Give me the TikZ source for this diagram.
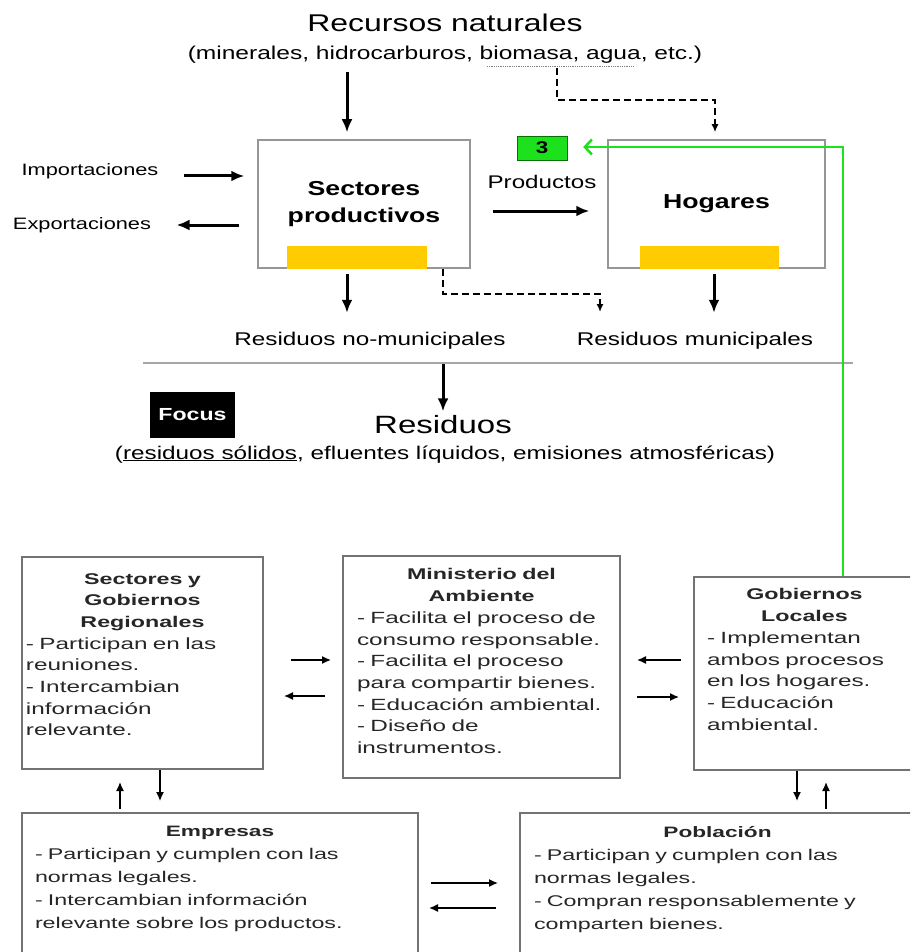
\documentclass[tikz,border=0pt]{standalone}
\usepackage{fontspec}
\setmainfont{Liberation Sans}[FakeStretch=1.32]
\newfontfamily\boxfont{Liberation Sans}[FakeStretch=1.5]
\usetikzlibrary{positioning, calc, arrows.meta}

\definecolor{ylw}{RGB}{255,204,0}
\definecolor{grn}{RGB}{30,225,30}
\definecolor{frame}{RGB}{150,150,150}

\tikzset{
  topbox/.style={draw=frame, line width=1.5pt, minimum width=212pt, minimum height=128pt, align=center, font=\fontsize{20.2}{27}\selectfont\bfseries},
  bar/.style={fill=ylw, inner sep=0pt, minimum width=140pt, minimum height=23pt},
  bigarr/.style={-{Latex[length=13pt,width=11pt]}, line width=3pt},
  dasharr/.style={-{Latex[length=8pt,width=7pt]}, line width=2pt, dash pattern=on 7pt off 4pt},
  thinarr/.style={-{Latex[length=9pt,width=8pt]}, line width=1.4pt},
  grnarr/.style={-{Straight Barb[length=7pt,width=15pt]}, draw=grn, line width=2.5pt},
  actor/.style={draw=black!55, line width=2pt, inner sep=0pt},
  actortxt/.style={inner sep=0pt, align=left, text=black!85, font=\boxfont\fontsize{16.2}{21.7}\selectfont},
  lowtxt/.style={inner sep=0pt, align=left, text=black!85, font=\boxfont\fontsize{15.5}{23}\selectfont}
}

\begin{document}
\begin{tikzpicture}[x=1pt, y=-1pt]
  \useasboundingbox (0,0) rectangle (910,952);
  \fill[white] (0,0) rectangle (910,952);
  \clip (0,0) rectangle (910,952);

  % Recursos naturales
  \node[anchor=base, font=\fontsize{24.2}{29}\selectfont] (rec) at (445,32) {Recursos naturales};
  \node[anchor=base, font=\fontsize{18.6}{22}\selectfont] (recsub) at (445,60) {(minerales, hidrocarburos, biomasa, agua, etc.)};
  \draw[densely dotted, black!50, line width=0.8pt] (487,66) -- (633,66);

  % Sectores y hogares
  \node[topbox] (sect) at (364,204) {Sectores\\productivos};
  \node[bar, anchor=south west] (sectbar) at ([xshift=30pt]sect.south west) {};
  \node[topbox, minimum width=217pt] (hog) at (716.5,204) {Hogares};
  \node[bar, anchor=south west, minimum width=139pt] (hogbar) at ([xshift=33pt]hog.south west) {};

  \node[draw=green!45!black, fill=grn, minimum width=50pt, minimum height=24pt, inner sep=0pt, font=\fontsize{17}{20}\selectfont\bfseries] (tres) at (542,148) {3};
  \node[anchor=base, font=\fontsize{18.3}{22}\selectfont] (prod) at (542,188) {Productos};
  \node[font=\fontsize{16.5}{20}\selectfont] (imp) at (90,171) {Importaciones};
  \node[font=\fontsize{16.5}{20}\selectfont] (exp) at (82,225) {Exportaciones};

  \coordinate (rin) at (347,72);
  \coordinate (rdash) at (557,68);
  \draw[bigarr, shorten >=7pt] (rin) -- (rin |- sect.north);
  \draw[dasharr, shorten >=7pt] (rdash) -- ++(0,32) -| ([xshift=-1.5pt]hog.north);
  \draw[bigarr, shorten <=22pt, shorten >=18pt] ([yshift=-7pt]sect.east) -- ([yshift=-7pt]sect.east -| hog.west);
  \draw[bigarr, shorten <=22pt, shorten >=13pt] ([yshift=-5pt]imp.east) -- ([yshift=-5pt]imp.east -| sect.west);
  \draw[bigarr, shorten <=18pt, shorten >=22pt] (exp.east -| sect.west) -- (exp.east);

  % Residuos
  \node[anchor=base, font=\fontsize{18.4}{22}\selectfont] (rnm) at (370,345) {Residuos no-municipales};
  \node[anchor=base, font=\fontsize{18.4}{22}\selectfont] (rm) at (695,345) {Residuos municipales};
  \coordinate (rmdash) at (600,312);
  \draw[bigarr] ([xshift=-17pt,yshift=-5pt]sect.south) -- ++(0,39);
  \draw[dasharr] ([xshift=79pt]sect.south) -- ++(0,25) -| (rmdash);
  \draw[bigarr] ([xshift=-2.5pt,yshift=-5pt]hog.south) -- ++(0,39);

  \draw[line width=1.5pt, black!35] (143,363) -- (853,363);
  \coordinate (sep) at (443,364);

  \node[fill=black, text=white, minimum width=85pt, minimum height=46pt, inner sep=0pt, font=\fontsize{17.5}{20}\selectfont\bfseries] (focus) at (192.5,415) {Focus};
  \node[anchor=base, font=\fontsize{25}{30}\selectfont] (res) at (443,433) {Residuos};
  \node[anchor=base, font=\fontsize{18.4}{22}\selectfont] (ressub) at (445,459) {(\underline{residuos sólidos}, efluentes líquidos, emisiones atmosféricas)};
  \draw[bigarr] (sep) -- (sep |- res.north);

  % Actores
  \node[actor, minimum width=241pt, minimum height=212pt] (sgr) at (142.5,663) {};
  \node[actortxt, text width=233pt, below=17pt of sgr.north] (sgrtxt) {{\centering\bfseries\fontsize{15.5}{21.7}\selectfont Sectores y\\Gobiernos\\Regionales\par}- Participan en las\\reuniones.\\- Intercambian\\información\\relevante.};

  \node[actor, minimum width=277pt, minimum height=222pt] (mina) at (481.5,667) {};
  \node[actortxt, text width=249pt, below=13.5pt of mina.north] (minatxt) {{\centering\bfseries\fontsize{15.5}{21.7}\selectfont Ministerio del\\Ambiente\par}- Facilita el proceso de\\consumo responsable.\\- Facilita el proceso\\para compartir bienes.\\- Educación ambiental.\\- Diseño de\\instrumentos.};

  \node[actor, minimum width=221pt, minimum height=193pt] (gl) at (804.5,673.5) {};
  \node[actortxt, text width=195pt, below=12.5pt of gl.north] (gltxt) {{\centering\bfseries\fontsize{15.5}{21.7}\selectfont Gobiernos\\Locales\par}- Implementan\\ambos procesos\\en los hogares.\\- Educación\\ambiental.};

  \node[actor, minimum width=396pt, minimum height=160pt] (emp) at (220,893) {};
  \node[lowtxt, text width=370pt, below=14pt of emp.north] (emptxt) {{\centering\bfseries\fontsize{15.1}{23}\selectfont Empresas\par}- Participan y cumplen con las\\normas legales.\\- Intercambian información\\relevante sobre los productos.};

  \node[actor, minimum width=395pt, minimum height=160pt] (pob) at (717.5,893) {};
  \node[lowtxt, text width=367pt, below=14pt of pob.north] (pobtxt) {{\centering\bfseries\fontsize{15.1}{23}\selectfont Población\par}- Participan y cumplen con las\\normas legales.\\- Compran responsablemente y\\comparten bienes.};

  \draw[thinarr] ($(sgr.east)+(27,-3)$) -- ++(40,0);
  \draw[thinarr] ($(mina.west)+(-17,29)$) -- ++(-41,0);
  \draw[thinarr] ($(gl.west)+(-12,-13.5)$) -- ++(-44,0);
  \draw[thinarr] ($(mina.east)+(16,30)$) -- ++(42,0);
  \draw[thinarr] ($(sgr.south)+(17.5,0)$) -- ++(0,31);
  \draw[thinarr] ($(emp.north)+(-100,-3)$) -- ++(0,-27);
  \draw[thinarr] ($(gl.south)+(-7.5,0)$) -- ++(0,30);
  \draw[thinarr] ($(pob.north)+(108.5,-3)$) -- ++(0,-27);
  \draw[thinarr] ($(emp.east)+(12,-10)$) -- ++(67,0);
  \draw[thinarr] ($(pob.west)+(-23,15)$) -- ++(-67,0);

  % Retorno a productos
  \draw[grnarr] ($(gl.north)+(38.5,0)$) |- ($(tres.east)+(16,-1)$);
\end{tikzpicture}
\end{document}
